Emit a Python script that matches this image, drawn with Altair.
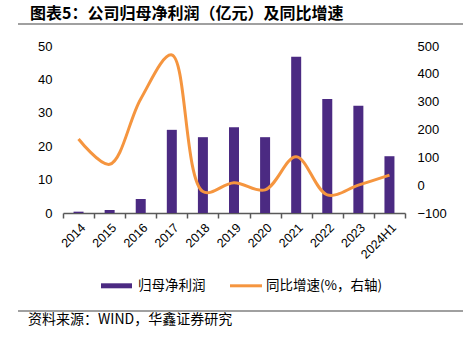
import altair as alt
import pandas as pd

years = ["2014", "2015", "2016", "2017", "2018", "2019", "2020", "2021", "2022", "2023", "2024H1"]
profit = [0.4, 0.9, 4.2, 24.9, 22.7, 25.7, 22.7, 46.8, 34.1, 32.1, 17.0]
growth = [166, 75, 310, 468, -23, 9, -17, 102, -35, 0, 36]
series_names = ["归母净利润", "同比增速(%，右轴)"]
title_text = "图表5：公司归母净利润（亿元）及同比增速"
source_text = "资料来源：WIND，华鑫证券研究"
left_ticks = [0, 10, 20, 30, 40, 50]
right_ticks = [-100, 0, 100, 200, 300, 400, 500]

purple = "#4B2A82"
orange = "#F5953F"
cjk = "Noto Sans CJK SC"
latin = "Liberation Sans"

df = pd.DataFrame({"year": years, "profit": profit, "growth": growth})
one = pd.DataFrame({"a": [0]})

x = alt.X(
    "year:N", sort=years,
    scale=alt.Scale(paddingInner=0, paddingOuter=0),
    axis=alt.Axis(title=None, labelAngle=-45, labelFontSize=12.5, labelFont=latin,
                  labelColor="#000000", domainColor="#595959", domainWidth=1.5,
                  tickColor="#595959", tickBand="extent", tickSize=5, tickWidth=1.5,
                  labelPadding=3),
)

bars = alt.Chart(df).mark_bar(color=purple, size=10).encode(
    x=x,
    y=alt.Y("profit:Q", scale=alt.Scale(domain=[0, 50], nice=False),
            axis=alt.Axis(title=None, orient="left", values=left_ticks, grid=False,
                          domain=False, ticks=False, labelPadding=11, labelFontSize=13,
                          labelFont=latin, labelColor="#000000")),
)

line = alt.Chart(df).mark_line(color=orange, strokeWidth=3, interpolate="catmull-rom").encode(
    x=x,
    y=alt.Y("growth:Q", scale=alt.Scale(domain=[-100, 500], nice=False),
            axis=alt.Axis(title=None, orient="right", values=right_ticks, grid=False,
                          domain=False, ticks=False, labelPadding=12, labelFontSize=13,
                          labelFont=latin, labelColor="#000000")),
)

title = alt.Chart(pd.DataFrame({"t": [title_text]})).mark_text(
    align="left", baseline="middle", font=cjk, fontSize=16, fontWeight="bold", color="#000000"
).encode(x=alt.value(-33), y=alt.value(-32), text="t:N")

rule_top = alt.Chart(one).mark_rule(color="#808080", strokeWidth=1.5).encode(
    x=alt.value(-45), x2=alt.value(400), y=alt.value(-22))
rule_bottom = alt.Chart(one).mark_rule(color="#808080", strokeWidth=1.5).encode(
    x=alt.value(-45), x2=alt.value(400), y=alt.value(265))

source = alt.Chart(pd.DataFrame({"t": [source_text]})).mark_text(
    align="left", baseline="middle", font=cjk, fontSize=14, color="#000000"
).encode(x=alt.value(-35), y=alt.value(274), text="t:N")

leg_bar = alt.Chart(one).mark_rect(color=purple).encode(
    x=alt.value(38), x2=alt.value(69), y=alt.value(237.3), y2=alt.value(242.3))
leg_line = alt.Chart(one).mark_rule(color=orange, strokeWidth=3).encode(
    x=alt.value(167), x2=alt.value(199), y=alt.value(239.8))
leg_t1 = alt.Chart(pd.DataFrame({"t": [series_names[0]]})).mark_text(
    align="left", baseline="middle", font=cjk, fontSize=13.5, color="#000000"
).encode(x=alt.value(75), y=alt.value(240), text="t:N")
leg_t2 = alt.Chart(pd.DataFrame({"t": [series_names[1]]})).mark_text(
    align="left", baseline="middle", font=cjk, fontSize=13.5, color="#000000"
).encode(x=alt.value(203), y=alt.value(240), text="t:N")

chart = alt.layer(
    bars, line, title, rule_top, rule_bottom, source, leg_bar, leg_line, leg_t1, leg_t2
).resolve_scale(y="independent").properties(
    width=342, height=167,
    autosize=alt.AutoSizeParams(type="none"),
    padding={"left": 63, "top": 46, "right": 63, "bottom": 124},
).configure_view(stroke=None)

chart.save("out.html", embed_options={"renderer": "svg", "actions": False})
